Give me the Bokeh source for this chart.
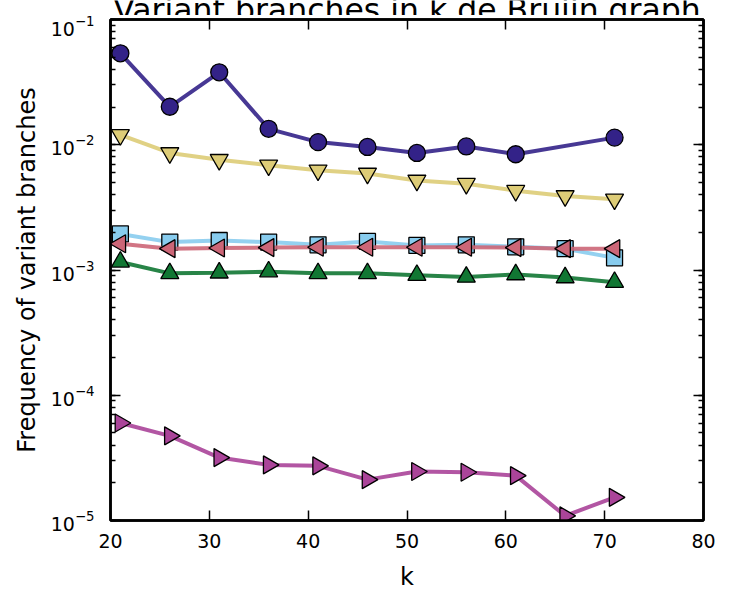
import math
from bokeh.plotting import figure
from bokeh.layouts import column
from bokeh.models import (Range1d, LinearAxis, LogAxis, Label, FixedTicker, LogTicker,
                          CustomLabelingPolicy)
from bokeh.embed import file_html
from bokeh.resources import INLINE

# ---- data ----
k = [21, 26, 31, 36, 41, 46, 51, 56, 61, 66, 71]
k_circle = [21, 26, 31, 36, 41, 46, 51, 56, 61, 71]
freq_circle = [0.0537, 0.0201, 0.0379, 0.0134, 0.0105, 0.0096, 0.0086, 0.0097, 0.0084, 0.0114]
freq_down = [0.0120, 0.0086, 0.0076, 0.00686, 0.00626, 0.0059, 0.00519, 0.00489, 0.00430, 0.00390, 0.00367]
freq_square = [0.00194, 0.00167, 0.00172, 0.00167, 0.00159, 0.00169, 0.00157, 0.00159, 0.00153, 0.00148, 0.00125]
freq_left = [0.00162, 0.00148, 0.00150, 0.00151, 0.00152, 0.00152, 0.00152, 0.00152, 0.00151, 0.00148, 0.00148]
freq_up = [0.00116, 0.00094, 0.00095, 0.00097, 0.00094, 0.00094, 0.00091, 0.00088, 0.00092, 0.00087, 0.00080]
freq_right = [6.01e-5, 4.74e-5, 3.18e-5, 2.78e-5, 2.73e-5, 2.12e-5, 2.46e-5, 2.43e-5, 2.28e-5, 1.09e-5, 1.53e-5]

x_ticks = [20, 30, 40, 50, 60, 70, 80]
title_text = "Variant branches in k de Bruijn graph"
x_label = "k"
y_label = "Frequency of variant branches"

FONT = "DejaVu Sans"
TITLE_H = 15

# ---- title strip (the title is cropped at the top of the image) ----
# its frame is aligned with the main plot frame by the column layout
tf = figure(width=730, height=TITLE_H, x_range=Range1d(20, 80), y_range=Range1d(0, TITLE_H),
            output_backend="svg", toolbar_location=None,
            x_axis_location=None, y_axis_location=None,
            min_border_left=0, min_border_right=0, min_border_top=0, min_border_bottom=0)
tf.grid.visible = False
tf.outline_line_color = None
tf.background_fill_color = "white"
tf.border_fill_color = "white"
tf.add_layout(Label(x=50, y=5.5, text=title_text, text_align="center",
                    text_baseline="alphabetic", text_font=FONT, text_font_size="31.5px",
                    text_color="black"))

# ---- main plot ----
p = figure(width=730, height=593 - TITLE_H, x_range=Range1d(20, 80), y_range=Range1d(1e-5, 1e-1),
           y_axis_type="log", output_backend="svg", toolbar_location=None,
           min_border_left=110, min_border_right=27, min_border_top=19 - TITLE_H,
           min_border_bottom=69)
p.grid.visible = False
p.outline_line_color = "black"
p.outline_line_width = 2.5
p.background_fill_color = "white"
p.border_fill_color = "white"

no_labels = CustomLabelingPolicy(code="return []")

# extra mirrored axes (ticks only)
p.add_layout(LinearAxis(major_label_policy=no_labels), "above")
p.add_layout(LogAxis(major_label_policy=no_labels), "right")

for ax in p.xaxis:
    ax.ticker = FixedTicker(ticks=x_ticks, minor_ticks=[])
for ax in p.yaxis:
    ax.ticker = LogTicker(num_minor_ticks=10)

for ax in list(p.xaxis) + list(p.yaxis):
    ax.axis_line_width = 2.5
    ax.axis_line_color = "black"
    ax.major_tick_in = 10
    ax.major_tick_out = 0
    ax.minor_tick_in = 5
    ax.minor_tick_out = 0
    ax.major_tick_line_width = 1.5
    ax.minor_tick_line_width = 1.5
    ax.major_label_text_font = FONT
    ax.major_label_text_font_size = "19px"
    ax.major_label_text_color = "black"

bottom = p.below[0]
left = p.left[0]
top = p.above[0]
right = p.right[0]
for ax in (top, right):
    ax.major_label_standoff = 0
    ax.axis_label_standoff = 0
    ax.major_label_text_font_size = "1px"
bottom.major_label_standoff = 13
left.major_label_standoff = 16

bottom.axis_label = x_label
left.axis_label = y_label
for ax in (bottom, left):
    ax.axis_label_text_font = FONT
    ax.axis_label_text_font_size = "24px"
    ax.axis_label_text_font_style = "normal"
    ax.axis_label_text_color = "black"
bottom.axis_label_standoff = 12
left.axis_label_standoff = 7

series = [
    (k_circle, freq_circle, "#332288", "circle", 0.0, 17),
    (k, freq_down, "#DDCC77", "inverted_triangle", 0.0, 18),
    (k, freq_square, "#88CCEE", "square", 0.0, 16),
    (k, freq_left, "#CC6677", "triangle", math.pi / 2, 18),
    (k, freq_up, "#117733", "triangle", 0.0, 18),
    (k, freq_right, "#AA4499", "triangle", -math.pi / 2, 18),
]
for xs, ys, col, mk, ang, sz in series:
    p.line(xs, ys, line_color=col, line_width=4, line_alpha=0.9)
    p.scatter(xs, ys, marker=mk, angle=ang, size=sz, fill_color=col,
              line_color="black", line_width=1.3)

layout = column(tf, p, spacing=0)
open("out.html", "w").write(file_html(layout, INLINE))
